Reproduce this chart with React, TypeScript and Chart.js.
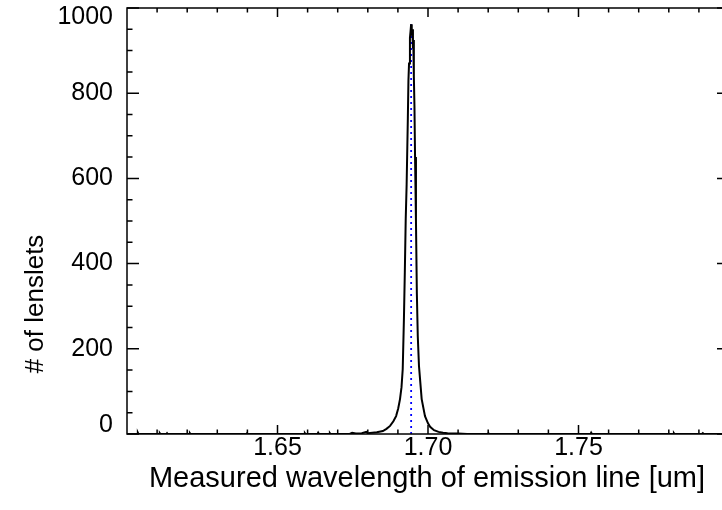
import React, { useEffect, useRef } from "react";
import { Chart, registerables } from "chart.js";

Chart.register(...registerables);

// Histogram of measured emission-line wavelengths (um) vs. number of lenslets
const wavelengths: number[] = [
  1.6, 1.6034, 1.6036, 1.6038, 1.6107, 1.6109, 1.6111, 1.6131, 1.6133, 1.6135,
  1.6207, 1.6209, 1.6211, 1.6397, 1.6399, 1.6401, 1.6589, 1.6591, 1.6593, 1.6633,
  1.6635, 1.6637, 1.6672, 1.6674, 1.6676, 1.674, 1.6748, 1.676, 1.678, 1.6795,
  1.68, 1.683, 1.685, 1.6862, 1.6874, 1.6885, 1.6894, 1.6901, 1.6907, 1.6912,
  1.6916, 1.692, 1.6923, 1.6926, 1.6929, 1.6933, 1.6935, 1.6937, 1.694, 1.6942,
  1.6944, 1.6946, 1.6948, 1.695, 1.6951, 1.6953, 1.6955, 1.6957, 1.696, 1.6963,
  1.6966, 1.697, 1.6979, 1.699, 1.7, 1.7007, 1.702, 1.7035, 1.705, 1.7065,
  1.71, 1.713, 1.7199, 1.7201, 1.7203, 1.754, 1.7542, 1.7544, 1.7815, 1.7817,
  1.7819, 1.791, 1.7913, 1.7916, 1.8,
];
const lensletCounts: number[] = [
  0, 0, 3, 0, 0, 2, 0, 0, 2, 0,
  0, 2, 0, 0, 2, 0, 0, 2, 0, 0,
  3, 0, 0, 2, 0, 0, 3, 1, 2, 5,
  2, 4, 7, 12, 19, 30, 42, 60, 82, 110,
  152, 270, 380, 505, 585, 740, 830, 870, 930, 945,
  962, 935, 950, 905, 925, 840, 770, 650, 500, 330,
  230, 160, 82, 42, 25, 17, 9, 5, 3, 2,
  1, 0, 0, 2, 0, 0, 3, 0, 0, 2,
  0, 0, 2, 0, 0,
];

// Dotted marker at the median wavelength
const markerX: number[] = [1.6944, 1.6944];
const markerY: number[] = [0, 962];

const xMajorTicks: number[] = [1.65, 1.7, 1.75];
const xMinorTicks: number[] = [
  1.61, 1.62, 1.63, 1.64, 1.66, 1.67, 1.68, 1.69, 1.71, 1.72, 1.73, 1.74,
  1.76, 1.77, 1.78, 1.79,
];
const yMajorTicks: number[] = [0, 200, 400, 600, 800, 1000];
const yMinorTicks: number[] = [
  50, 100, 150, 250, 300, 350, 450, 500, 550, 650, 700, 750, 850, 900, 950,
];

const xTitle = "Measured wavelength of emission line [um]";
const yTitle = "# of lenslets";

const FONT = "'Liberation Sans', Arial, Helvetica, sans-serif";

const frameTicksPlugin = {
  id: "frameTicks",
  afterDatasetsDraw(chart: any) {
    const { ctx, chartArea } = chart;
    const xs = chart.scales.x;
    const ys = chart.scales.y;
    const { left, right, top, bottom } = chartArea;
    ctx.save();
    ctx.strokeStyle = "#000";
    ctx.lineWidth = 1.5;
    ctx.strokeRect(left, top, right - left, bottom - top);
    const drawX = (vals: number[], len: number) => {
      vals.forEach((v) => {
        const px = xs.getPixelForValue(v);
        ctx.beginPath();
        ctx.moveTo(px, bottom);
        ctx.lineTo(px, bottom - len);
        ctx.moveTo(px, top);
        ctx.lineTo(px, top + len);
        ctx.stroke();
      });
    };
    const drawY = (vals: number[], len: number) => {
      vals.forEach((v) => {
        const py = ys.getPixelForValue(v);
        ctx.beginPath();
        ctx.moveTo(left, py);
        ctx.lineTo(left + len, py);
        ctx.moveTo(right, py);
        ctx.lineTo(right - len, py);
        ctx.stroke();
      });
    };
    drawX(xMajorTicks, 9);
    drawX(xMinorTicks, 4.5);
    drawY(yMajorTicks, 12);
    drawY(yMinorTicks, 5.5);

    // y tick labels, kept inside the axis span like the original
    ctx.fillStyle = "#000";
    ctx.font = `25px ${FONT}`;
    ctx.textAlign = "right";
    ctx.textBaseline = "middle";
    yMajorTicks.forEach((v) => {
      const py = ys.getPixelForValue(v);
      const cy = Math.min(Math.max(py, top + 9), bottom - 9);
      ctx.fillText(String(v), left - 14, cy);
    });
    ctx.restore();
  },
  afterDraw(chart: any) {
    const { ctx } = chart;
    ctx.save();
    ctx.fillStyle = "#000";
    ctx.textAlign = "center";
    ctx.textBaseline = "middle";
    ctx.font = `29px ${FONT}`;
    ctx.fillText(xTitle, 427, 479);
    ctx.font = `26px ${FONT}`;
    ctx.translate(36, 304);
    ctx.rotate(-Math.PI / 2);
    ctx.fillText(yTitle, 0, 0);
    ctx.restore();
  },
};

export default function App() {
  const canvasRef = useRef<HTMLCanvasElement | null>(null);

  useEffect(() => {
    if (!canvasRef.current) return;
    const histData = wavelengths.map((w, i) => ({ x: w, y: lensletCounts[i] }));
    const markerData = markerX.map((w, i) => ({ x: w, y: markerY[i] }));

    const chart = new Chart(canvasRef.current, {
      type: "line",
      data: {
        datasets: [
          {
            label: "histogram",
            data: histData,
            borderColor: "#000000",
            borderWidth: 2,
            pointRadius: 0,
            tension: 0,
            fill: false,
          },
          {
            label: "median",
            data: markerData,
            borderColor: "#0000ff",
            borderWidth: 1.8,
            borderDash: [2, 4],
            pointRadius: 0,
            fill: false,
          },
        ],
      },
      options: {
        responsive: false,
        animation: false,
        events: [],
        layout: { padding: { top: 8, right: 11, left: 0, bottom: 0 } },
        plugins: {
          legend: { display: false },
          tooltip: { enabled: false },
          title: { display: false },
        },
        scales: {
          x: {
            type: "linear",
            min: 1.6,
            max: 1.8,
            grid: { display: false, drawTicks: false },
            border: { display: false },
            afterBuildTicks: (scale: any) => {
              scale.ticks = xMajorTicks.map((v) => ({ value: v }));
            },
            afterFit: (scale: any) => {
              scale.height = 76;
              scale.paddingLeft = 0;
              scale.paddingRight = 0;
            },
            ticks: {
              padding: -1,
              color: "#000",
              font: { family: FONT, size: 25 },
              maxRotation: 0,
              callback: (v: any) => Number(v).toFixed(2),
            },
          },
          y: {
            type: "linear",
            min: 0,
            max: 1000,
            grid: { display: false, drawTicks: false },
            border: { display: false },
            afterBuildTicks: (scale: any) => {
              scale.ticks = yMajorTicks.map((v) => ({ value: v }));
            },
            afterFit: (scale: any) => {
              scale.width = 127;
              scale.paddingTop = 0;
              scale.paddingBottom = 0;
            },
            ticks: { display: false },
          },
        },
      },
      plugins: [frameTicksPlugin],
    });
    return () => chart.destroy();
  }, []);

  return (
    <div
      style={{
        position: "fixed",
        left: 0,
        top: 0,
        width: 722,
        height: 510,
        overflow: "hidden",
        background: "#fff",
      }}
    >
      <canvas
        ref={canvasRef}
        width={740}
        height={510}
        style={{ display: "block", width: 740, height: 510 }}
      />
    </div>
  );
}
